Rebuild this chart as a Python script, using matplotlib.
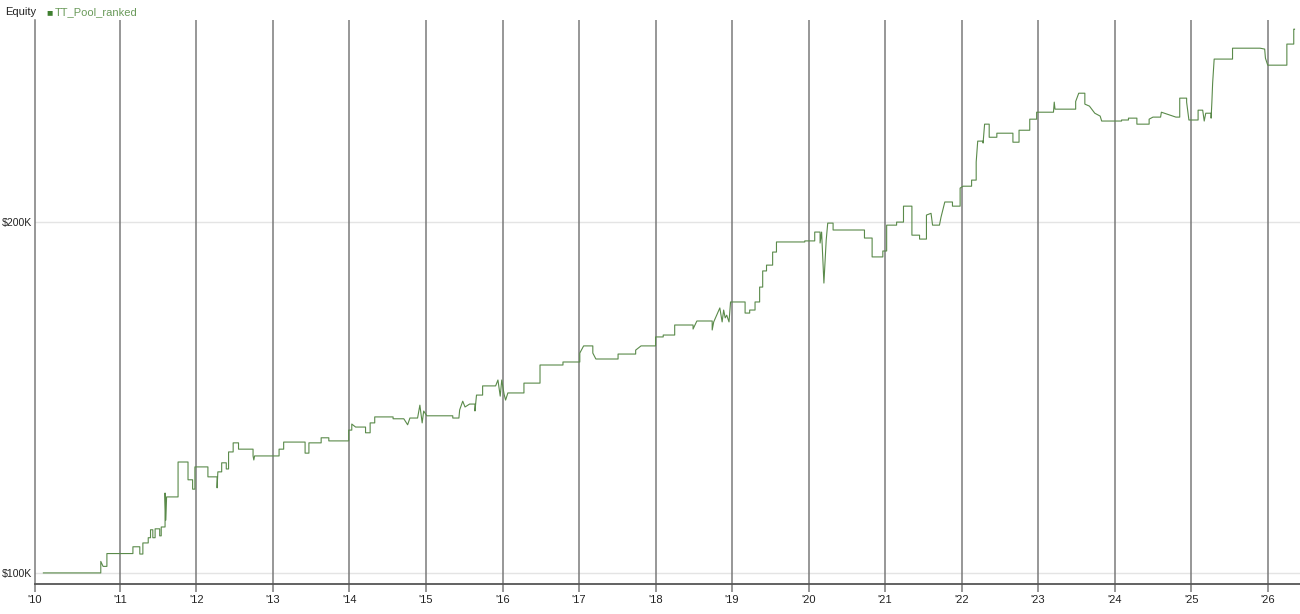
import matplotlib
matplotlib.use("Agg")
import matplotlib.pyplot as plt
from matplotlib.ticker import FixedLocator, NullLocator

plt.rcParams['font.family'] = ['Liberation Sans', 'DejaVu Sans']

# equity curve: fractional year, equity in $K
years = [
    2010.00, 2010.75, 2010.75, 2010.78, 2010.83, 2010.83, 2011.17, 2011.17, 2011.26, 2011.26,
    2011.30, 2011.30, 2011.37, 2011.37, 2011.40, 2011.40, 2011.43, 2011.43, 2011.46, 2011.46,
    2011.52, 2011.52, 2011.54, 2011.54, 2011.59, 2011.59, 2011.60, 2011.61, 2011.76, 2011.76,
    2011.89, 2011.89, 2011.95, 2011.95, 2011.98, 2011.98, 2012.15, 2012.15, 2012.27, 2012.27,
    2012.28, 2012.33, 2012.33, 2012.39, 2012.39, 2012.42, 2012.42, 2012.48, 2012.48, 2012.55,
    2012.55, 2012.74, 2012.74, 2012.75, 2012.76, 2013.08, 2013.08, 2013.14, 2013.14, 2013.42,
    2013.42, 2013.47, 2013.47, 2013.63, 2013.63, 2013.73, 2013.73, 2013.99, 2013.99, 2014.03,
    2014.03, 2014.08, 2014.21, 2014.21, 2014.27, 2014.27, 2014.33, 2014.33, 2014.57, 2014.57,
    2014.71, 2014.76, 2014.79, 2014.89, 2014.92, 2014.95, 2014.97, 2015.01, 2015.35, 2015.35,
    2015.43, 2015.44, 2015.48, 2015.51, 2015.57, 2015.64, 2015.64, 2015.66, 2015.74, 2015.74,
    2015.91, 2015.94, 2015.97, 2015.99, 2016.02, 2016.04, 2016.07, 2016.28, 2016.28, 2016.49,
    2016.49, 2016.79, 2016.79, 2017.01, 2017.01, 2017.06, 2017.18, 2017.18, 2017.22, 2017.51,
    2017.51, 2017.74, 2017.74, 2017.81, 2018.00, 2018.00, 2018.10, 2018.10, 2018.25, 2018.25,
    2018.49, 2018.49, 2018.54, 2018.74, 2018.74, 2018.76, 2018.84, 2018.87, 2018.89, 2018.91,
    2018.93, 2018.96, 2018.98, 2019.17, 2019.17, 2019.23, 2019.23, 2019.30, 2019.30, 2019.36,
    2019.36, 2019.40, 2019.40, 2019.45, 2019.45, 2019.53, 2019.53, 2019.58, 2019.58, 2019.95,
    2019.95, 2020.08, 2020.08, 2020.15, 2020.15, 2020.17, 2020.20, 2020.23, 2020.25, 2020.32,
    2020.32, 2020.73, 2020.73, 2020.83, 2020.83, 2020.97, 2020.97, 2021.02, 2021.02, 2021.15,
    2021.15, 2021.24, 2021.24, 2021.35, 2021.35, 2021.45, 2021.45, 2021.54, 2021.54, 2021.60,
    2021.62, 2021.71, 2021.73, 2021.78, 2021.88, 2021.88, 2021.98, 2021.98, 2022.02, 2022.13,
    2022.13, 2022.19, 2022.19, 2022.21, 2022.28, 2022.28, 2022.30, 2022.36, 2022.36, 2022.46,
    2022.46, 2022.67, 2022.67, 2022.75, 2022.75, 2022.89, 2022.89, 2022.98, 2022.98, 2023.20,
    2023.21, 2023.22, 2023.49, 2023.49, 2023.53, 2023.61, 2023.61, 2023.67, 2023.74, 2023.81,
    2023.83, 2024.09, 2024.09, 2024.18, 2024.18, 2024.29, 2024.29, 2024.45, 2024.45, 2024.50,
    2024.60, 2024.61, 2024.80, 2024.85, 2024.85, 2024.94, 2024.94, 2024.97, 2025.09, 2025.09,
    2025.15, 2025.17, 2025.19, 2025.26, 2025.26, 2025.27, 2025.28, 2025.30, 2025.54, 2025.54,
    2025.90, 2025.96, 2025.97, 2026.00, 2026.25, 2026.25, 2026.34, 2026.34, 2026.35,
]
equity = [
    100.0, 100.0, 102.3, 101.3, 101.3, 103.9, 103.9, 105.3, 105.3, 103.8,
    103.8, 106.1, 106.1, 107.2, 107.2, 108.9, 108.9, 107.2, 107.2, 109.1,
    109.1, 107.6, 107.6, 109.5, 109.5, 117.1, 111.0, 116.2, 116.2, 124.5,
    124.5, 120.2, 120.2, 118.0, 118.0, 123.3, 123.3, 120.9, 120.9, 118.3,
    122.1, 122.1, 124.3, 124.3, 122.8, 122.8, 127.0, 127.0, 129.3, 129.3,
    127.7, 127.7, 126.0, 125.0, 126.0, 126.0, 127.7, 127.7, 129.5, 129.5,
    126.7, 126.7, 129.3, 129.3, 130.6, 130.6, 129.8, 129.8, 132.6, 132.6,
    134.2, 133.4, 133.4, 131.9, 131.9, 134.5, 134.5, 136.1, 136.1, 135.6,
    135.6, 134.0, 135.8, 135.8, 139.3, 134.5, 137.7, 136.4, 136.4, 135.8,
    135.8, 138.0, 140.4, 138.8, 139.6, 139.6, 137.7, 142.1, 142.1, 144.7,
    144.7, 146.4, 141.8, 146.4, 142.4, 140.7, 142.7, 142.7, 145.5, 145.5,
    150.8, 150.8, 151.7, 151.7, 154.4, 156.6, 156.6, 154.4, 152.6, 152.6,
    154.1, 154.1, 155.3, 156.6, 156.6, 159.4, 159.4, 160.0, 160.0, 163.2,
    163.2, 161.9, 164.5, 164.5, 161.6, 164.2, 168.8, 164.2, 168.1, 165.5,
    166.4, 164.2, 170.8, 170.8, 167.1, 167.1, 168.1, 168.1, 170.8, 170.8,
    175.9, 175.9, 181.6, 181.6, 183.7, 183.7, 188.5, 188.5, 192.3, 192.3,
    192.7, 192.7, 196.1, 196.1, 191.9, 196.1, 177.3, 193.0, 199.6, 199.6,
    196.9, 196.9, 193.8, 193.8, 186.7, 186.7, 188.9, 188.9, 198.8, 198.8,
    200.0, 200.0, 206.4, 206.4, 194.9, 194.9, 193.4, 193.4, 202.8, 203.5,
    198.8, 198.8, 201.9, 208.1, 208.1, 206.4, 206.4, 213.9, 214.7, 214.7,
    217.3, 217.3, 225.2, 234.7, 234.7, 233.8, 242.7, 242.7, 236.5, 236.5,
    238.4, 238.4, 234.2, 234.2, 239.8, 239.8, 245.1, 245.1, 248.5, 248.5,
    253.5, 250.0, 250.0, 253.8, 258.0, 258.0, 252.5, 251.5, 248.0, 246.6,
    244.2, 244.2, 244.7, 244.7, 245.6, 245.6, 242.7, 242.7, 245.1, 246.1,
    246.1, 248.5, 246.1, 246.1, 255.5, 255.5, 253.5, 244.7, 244.7, 249.5,
    249.5, 244.2, 248.0, 248.0, 245.6, 253.5, 263.2, 276.0, 276.0, 282.0,
    282.0, 281.5, 276.5, 272.7, 272.7, 284.3, 284.3, 292.8, 292.8,
]

year_ticks = list(range(2011, 2027))
year_labels = ["'10"] + ["'%02d" % (y % 100) for y in year_ticks]
y_ticks = [100, 200]
y_labels = ["$100K", "$200K"]

x_left, x_right = 2009.89, 2026.42

fig = plt.figure(figsize=(13, 6.14), dpi=100)
ax = fig.add_axes([0.0269, 0.049, 0.973, 0.918])

ax.plot(years, equity, color='#5a8a4a', lw=0.8, zorder=3)

ax.set_yscale('log')
ax.set_xlim(x_left, x_right)
ax.set_ylim(97.85, 298)

ax.xaxis.set_major_locator(FixedLocator([x_left] + year_ticks))
ax.set_xticklabels(year_labels)
ax.yaxis.set_major_locator(FixedLocator(y_ticks))
ax.yaxis.set_minor_locator(NullLocator())
ax.xaxis.set_minor_locator(NullLocator())
ax.set_yticklabels(y_labels)

for yr in year_ticks:
    ax.axvline(yr, color='#7a7a7a', lw=1.1, zorder=1)
for v in y_ticks:
    ax.axhline(v, color='#e4e4e4', lw=1.0, zorder=0)

ax.tick_params(axis='x', length=6, width=1.1, color='#7a7a7a', labelsize=8,
               labelcolor='#222222', pad=2)
ax.tick_params(axis='y', length=0, labelsize=7.6, labelcolor='#222222', pad=2)

for side in ['top', 'right']:
    ax.spines[side].set_visible(False)
ax.spines['bottom'].set_color('#555555')
ax.spines['bottom'].set_linewidth(1.3)
ax.spines['left'].set_color('#7a7a7a')
ax.spines['left'].set_linewidth(1.1)

# legend header
fig.text(5 / 1300, 1 - 12 / 614, "Equity", fontsize=8, color='#222222', va='center')
fig.text(46 / 1300, 1 - 12 / 614, "\u25a0", fontsize=7.5, color='#3f7f2f', va='center')
fig.text(55 / 1300, 1 - 12 / 614, "TT_Pool_ranked", fontsize=8, color='#6a9a5a', va='center')

fig.savefig("out.png", dpi=100)
